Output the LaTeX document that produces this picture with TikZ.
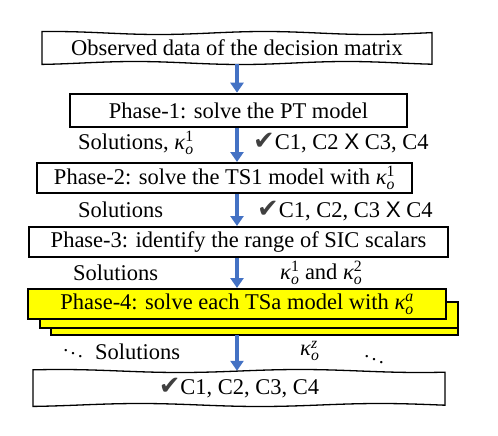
\documentclass[tikz,border=0pt]{standalone}
\usepackage{fontspec}
\setmainfont{Liberation Serif}
\newfontfamily\symfont{DejaVu Sans}
\newfontfamily\crossfont{Liberation Sans}
\usetikzlibrary{arrows.meta}
\definecolor{flowblue}{HTML}{4472C4}
\definecolor{phaseyellow}{HTML}{FFFF00}
\definecolor{tickgray}{HTML}{404040}
\newcommand{\tickmark}{{\symfont\color{tickgray}\scalebox{1.15}{✔}}}
\newcommand{\crossmark}{{\crossfont X}}
\newcommand{\kapo}[1]{{\itshape κ}\ensuremath{_{\mathit{o}}^{\mathrm{#1}}}}

\begin{document}
\begin{tikzpicture}[x=1pt, y=-1pt, every node/.style={font=\fontsize{22.5}{26}\selectfont}]
\tikzset{
  phase/.style={draw, line width=2pt, inner sep=0pt, minimum height=30pt},
  flow/.style={flowblue, line width=4pt, -{Triangle[width=13pt,length=10pt]}},
  note/.style={anchor=west, inner sep=0pt},
  dots/.style={anchor=west, inner sep=0pt, font=\fontsize{20}{22}\selectfont},
}
\useasboundingbox (0,0) rectangle (498,436);
% wavy input and output boxes
\draw[line width=1.3pt, fill=white]
  plot[domain=42:432, samples=80] (\x, {33-1.5*sin(1.7*\x)})
  -- plot[domain=432:42, samples=80] (\x, {63+1.5*sin(1.7*\x+40)}) -- cycle;
\draw[line width=1.3pt, fill=white]
  plot[domain=33:445, samples=80] (\x, {371-1.5*sin(1.5*\x)})
  -- plot[domain=445:33, samples=80] (\x, {405+1.5*sin(1.5*\x+60)}) -- cycle;
\node[minimum height=31pt] (obs) at (237,48) {Observed data of the decision matrix};
\node[minimum height=34pt] (res) at (239,388) {\tickmark C1, C2, C3, C4};
% phase boxes
\node[phase, line width=2.6pt, minimum width=337pt, minimum height=33pt] (p1) at (238.5,110.5) {Phase-1: solve the PT model};
\node[phase, minimum width=375pt] (p2) at (224.5,178) {Phase-2: solve the TS1 model with \kapo{1}};
\node[phase, minimum width=419pt] (p3) at (238.5,242) {Phase-3: identify the range of SIC scalars};
\draw[line width=2pt, fill=phaseyellow] (51,309) rectangle (458,335);
\draw[line width=2pt, fill=phaseyellow] (40,302) rectangle (458,328);
\node[phase, fill=phaseyellow, minimum width=418pt] (p4) at (237,304) {Phase-4: solve each TSa model with \kapo{\mathit{a}}};
\coordinate (stackbot) at (237,335);
% arrows
\draw[flow] (obs.south) -- (obs.south |- p1.north);
\draw[flow] (p1.south -| obs.south) -- (p2.north -| obs.south);
\draw[flow] (p2.south -| obs.south) -- (p3.north -| obs.south);
\draw[flow] (p3.south -| obs.south) -- (p4.north -| obs.south);
\draw[flow] (stackbot) -- (res.north -| stackbot);
% labels beside the arrows
\node[note] (s1) at (78,143) {Solutions, \kapo{1}};
\node[note] (c1) at (253,143) {\tickmark C1, C2 \crossmark\ C3, C4};
\node[note] (s2) at (78,210) {Solutions};
\node[note] (c2) at (257,211) {\tickmark C1, C2, C3 \crossmark\ C4};
\node[note] (s3) at (73,273) {Solutions};
\node[note] (k3) at (280,273) {\kapo{1} and \kapo{2}};
\node[dots] (d1) at (62,350) {$\ddots$};
\node[note] (s4) at (95,352) {Solutions};
\node[note] (k4) at (300,351) {\kapo{\mathit{z}}};
\node[dots] (d2) at (363,356) {$\ddots$};
\end{tikzpicture}
\end{document}
